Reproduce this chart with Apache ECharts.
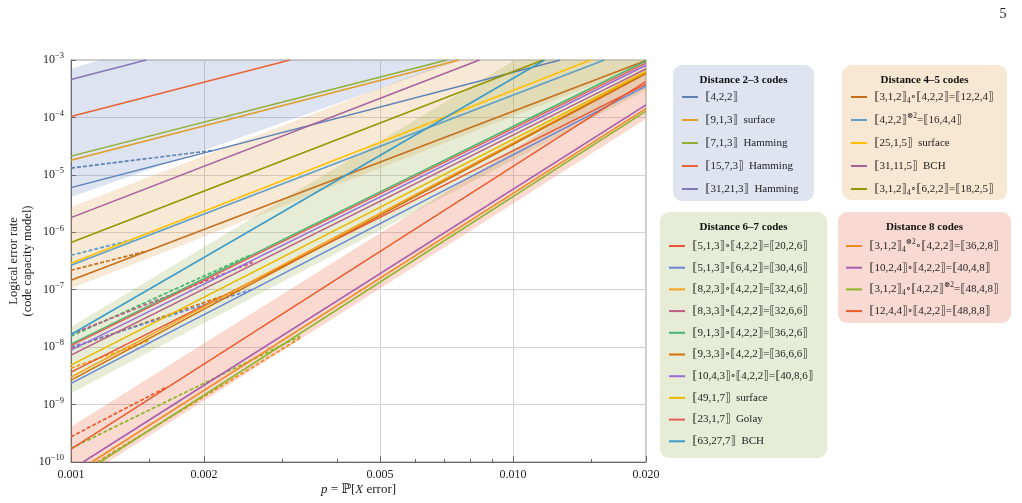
<!DOCTYPE html>
<html>
<head>
    <meta charset="utf-8">
    <title>Logical error rate</title>
    <script src="https://cdn.jsdelivr.net/npm/echarts@6/dist/echarts.min.js"></script>
    <style type="text/css">
        html, body {margin:0; padding:0; background:#fff; overflow:hidden;}
    </style>
</head>
<body>
<div id="main" style="width:1022px;height:503px;"></div>
<script type="text/javascript">
    var serif = "'Liberation Serif', 'DejaVu Serif', 'DejaVu Sans', serif";

    // axis ticks (p on x, logical error rate on y)
    var pTicks = [0.001, 0.002, 0.005, 0.010, 0.020];
    var pMinorTicks = [0.0015, 0.003, 0.004, 0.006, 0.007, 0.008, 0.009, 0.015];

    // one solid line per code: start point and end point (p, rate)
    var codeNames = [
        '⟦4,2,2⟧',
        '⟦9,1,3⟧  surface',
        '⟦7,1,3⟧  Hamming',
        '⟦15,7,3⟧  Hamming',
        '⟦31,21,3⟧  Hamming',
        '⟦3,1,2⟧_4∘⟦4,2,2⟧=⟦12,2,4⟧',
        '⟦4,2,2⟧^⊗2=⟦16,4,4⟧',
        '⟦25,1,5⟧  surface',
        '⟦31,11,5⟧  BCH',
        '⟦3,1,2⟧_4∘⟦6,2,2⟧=⟦18,2,5⟧',
        '⟦5,1,3⟧∘⟦4,2,2⟧=⟦20,2,6⟧',
        '⟦5,1,3⟧∘⟦6,4,2⟧=⟦30,4,6⟧',
        '⟦8,2,3⟧∘⟦4,2,2⟧=⟦32,4,6⟧',
        '⟦8,3,3⟧∘⟦4,2,2⟧=⟦32,6,6⟧',
        '⟦9,1,3⟧∘⟦4,2,2⟧=⟦36,2,6⟧',
        '⟦9,3,3⟧∘⟦4,2,2⟧=⟦36,6,6⟧',
        '⟦10,4,3⟧∘⟦4,2,2⟧=⟦40,8,6⟧',
        '⟦49,1,7⟧  surface',
        '⟦23,1,7⟧  Golay',
        '⟦63,27,7⟧  BCH',
        '⟦3,1,2⟧_4^⊗2∘⟦4,2,2⟧=⟦36,2,8⟧',
        '⟦10,2,4⟧∘⟦4,2,2⟧=⟦40,4,8⟧',
        '⟦3,1,2⟧_4∘⟦4,2,2⟧^⊗2=⟦48,4,8⟧',
        '⟦12,4,4⟧∘⟦4,2,2⟧=⟦48,8,8⟧'
    ];
    var startP = [0.001, 0.001, 0.001, 0.001, 0.001,
                  0.001, 0.001, 0.001, 0.001, 0.001,
                  0.001, 0.001, 0.001, 0.001, 0.001, 0.001, 0.001, 0.001, 0.001, 0.001,
                  0.001114, 0.001065, 0.001163, 0.001];
    var startRate = [5.99e-6, 1.79e-5, 2.12e-5, 1.04e-4, 4.58e-4,
                     1.46e-7, 2.67e-7, 2.89e-7, 1.80e-6, 6.62e-7,
                     3.67e-9, 2.34e-9, 3.01e-9, 7.26e-9, 1.13e-8, 2.67e-9, 8.87e-9, 4.86e-9, 1.06e-8, 1.66e-8,
                     1e-10, 1e-10, 1e-10, 1.68e-10];
    var endP = [0.0128, 0.00755, 0.00709, 0.00313, 0.00148,
                0.02, 0.0161, 0.0150, 0.0084, 0.0117,
                0.02, 0.02, 0.02, 0.02, 0.02, 0.02, 0.02, 0.02, 0.02, 0.0118,
                0.02, 0.02, 0.02, 0.02];
    var endRate = [1e-3, 1e-3, 1e-3, 1e-3, 1e-3,
                   0.98e-3, 1e-3, 1e-3, 1e-3, 1e-3,
                   3.81e-4, 3.50e-4, 6.06e-4, 7.0e-4, 9.6e-4, 5.82e-4, 8.09e-4, 6.31e-4, 8.83e-4, 1e-3,
                   1.43e-4, 1.65e-4, 1.29e-4, 4.23e-4];

    // dashed low-p segments (index of the code they belong to)
    var dashCode = [0, 5, 6, 14, 13, 15, 11, 12, 23, 22, 20];
    var dashFromP = [0.001, 0.001, 0.001, 0.001, 0.001, 0.001, 0.001, 0.001, 0.001, 0.001, 0.001145];
    var dashFromRate = [1.31e-5, 2.18e-7, 3.98e-7, 1.55e-8, 1.68e-8, 9.6e-9, 1.0e-8, 4.31e-9, 2.75e-10, 1.73e-10, 1e-10];
    var dashToP = [0.0021, 0.00148, 0.00138, 0.00254, 0.00258, 0.00241, 0.00258, 0.00151, 0.00165, 0.0033, 0.0033];
    var dashToRate = [2.67e-5, 4.67e-7, 7.46e-7, 3.98e-7, 3.0e-7, 9.8e-8, 1.02e-7, 1.32e-8, 2.04e-9, 1.55e-8, 1.44e-8];

    // shaded bands per distance group (polygon corners)
    var bandP = [
        [0.001, 0.001163, 0.00763, 0.001],
        [0.001, 0.00732, 0.02, 0.02, 0.001],
        [0.001, 0.0101, 0.02, 0.02, 0.001],
        [0.001, 0.02, 0.02, 0.001212, 0.001]
    ];
    var bandRate = [
        [7.03e-4, 1e-3, 1e-3, 4.11e-6],
        [2.75e-6, 1e-3, 1e-3, 8.35e-4, 1.05e-7],
        [2.25e-8, 1e-3, 1e-3, 2.99e-4, 1.57e-9],
        [4.11e-10, 7.7e-4, 9.5e-5, 1e-10, 1e-10]
    ];

    var codeColors = ['#5E81B5', '#E19C24', '#8FB032', '#EB6235', '#8778B3',
                      '#C56E1A', '#5D9EC7', '#FFBF00', '#A5609D', '#929600',
                      '#E95536', '#6685D9', '#F89F13', '#BC5B80', '#47B66D', '#D0700C', '#9A6AD8', '#E9B800', '#E35B5B', '#3A9BC8',
                      '#F08A24', '#A85AAC', '#8CB428', '#EA5A2C'];
    var bandColors = ['rgba(107,133,190,0.23)', 'rgba(223,160,78,0.23)', 'rgba(150,173,78,0.23)', 'rgba(231,107,75,0.26)'];
    var boxColors = ['#DFE4F0', '#F8E7D2', '#E7ECD6', '#F9DAD3'];
    var groupTitles = ['Distance 2\u20133 codes', 'Distance 4\u20135 codes', 'Distance 6\u20137 codes', 'Distance 8 codes'];

    var lg = Math.log10;
    var series = [];

    // bands
    bandP.forEach(function (ps, k) {
        var pts = ps.map(function (p, j) { return [lg(p), lg(bandRate[k][j])]; });
        series.push({
            type: 'custom',
            name: 'band' + k,
            silent: true,
            animation: false,
            z: 1,
            data: pts,
            renderItem: function (params, api) {
                if (params.dataIndex !== 0) return null;
                return {
                    type: 'polygon',
                    shape: {points: pts.map(function (d) { return api.coord(d); })},
                    style: {fill: bandColors[k]}
                };
            }
        });
    });

    // dashed segments
    dashCode.forEach(function (c, i) {
        series.push({
            type: 'line',
            name: 'bound' + i,
            data: [[lg(dashFromP[i]), lg(dashFromRate[i])], [lg(dashToP[i]), lg(dashToRate[i])]],
            symbol: 'none',
            silent: true,
            animation: false,
            z: 3,
            color: codeColors[c],
            lineStyle: {width: 1.7, type: [4, 2], color: codeColors[c]}
        });
    });

    // solid lines
    codeNames.forEach(function (n, i) {
        series.push({
            type: 'line',
            name: n,
            data: [[lg(startP[i]), lg(startRate[i])], [lg(endP[i]), lg(endRate[i])]],
            symbol: 'none',
            silent: true,
            animation: false,
            z: 4,
            color: codeColors[i],
            lineStyle: {width: 1.5, color: codeColors[i]}
        });
    });

    function richName(n) {
        return n.replace(/_4/g, '{sub|4}').replace(/\^⊗2/g, '{sup|⊗2}');
    }

    var legendText = {
        fontFamily: serif, fontSize: 11, color: '#222', lineHeight: 16, padding: [0, 0, 0, 2],
        rich: {
            sub: {fontFamily: serif, fontSize: 7.5, color: '#222', verticalAlign: 'bottom', lineHeight: 16},
            sup: {fontFamily: serif, fontSize: 7.5, color: '#222', verticalAlign: 'top', lineHeight: 16}
        }
    };
    function makeLegend(names, left, top, gap) {
        return {
            data: names, orient: 'vertical', left: left, top: top, padding: 0,
            itemWidth: 16, itemHeight: 2, itemGap: gap, icon: 'rect',
            selectedMode: false, formatter: richName, textStyle: legendText
        };
    }

    var boxes = [[673, 65, 141, 136], [842, 65, 165, 135], [660, 212, 167, 246], [838, 212, 173, 111]];
    var graphic = [];
    boxes.forEach(function (b, k) {
        graphic.push({type: 'rect', z: 0, shape: {x: b[0], y: b[1], width: b[2], height: b[3], r: 9}, style: {fill: boxColors[k]}});
        graphic.push({type: 'text', z: 10, x: b[0] + b[2] / 2, y: b[1] + 15,
            style: {text: groupTitles[k], font: 'bold 11px ' + serif, fill: '#111', align: 'center', verticalAlign: 'middle'}});
    });
    graphic.push({type: 'text', z: 10, x: 1003, y: 14,
        style: {text: '5', font: '14px ' + serif, fill: '#222', align: 'center', verticalAlign: 'middle'}});

    var myChart = echarts.init(document.getElementById('main'));
    var option = {
        animation: false,
        backgroundColor: '#fff',
        grid: {left: 71, right: 376, top: 60, bottom: 41, containLabel: false, outerBoundsMode: 'none',
               show: true, borderColor: '#999', borderWidth: 1, backgroundColor: 'transparent'},
        graphic: graphic,
        legend: [
            makeLegend(codeNames.slice(0, 5), 682, 89, 7),
            makeLegend(codeNames.slice(5, 10), 851, 89, 7),
            makeLegend(codeNames.slice(10, 20), 669, 238, 5.7),
            makeLegend(codeNames.slice(20, 24), 846, 238, 5.7)
        ],
        xAxis: [{
            type: 'value', position: 'bottom', min: -3, max: lg(0.02),
            axisLine: {show: true, lineStyle: {color: '#666'}},
            axisTick: {show: true, inside: true, length: 6, customValues: pTicks.map(lg), lineStyle: {color: '#666'}},
            axisLabel: {
                customValues: pTicks.map(lg), margin: 7, fontFamily: serif, fontSize: 12, color: '#222',
                formatter: function (v) { return Math.pow(10, v).toFixed(3); }
            },
            splitLine: {show: true, lineStyle: {color: '#d2d2d2'}},
            name: '{i|p} = ℙ[{i|X} error]', nameLocation: 'middle', nameGap: 21, nameMoveOverlap: false,
            nameTextStyle: {fontFamily: serif, fontSize: 13, color: '#222',
                rich: {i: {fontFamily: serif, fontStyle: 'italic', fontSize: 13, color: '#222'}}}
        }, {
            type: 'value', position: 'bottom', min: -3, max: lg(0.02),
            axisLine: {show: false},
            axisTick: {show: true, inside: true, length: 3, customValues: pMinorTicks.map(lg), lineStyle: {color: '#666'}},
            axisLabel: {show: false},
            splitLine: {show: false}
        }],
        yAxis: {
            type: 'value', min: -10, max: -3, interval: 1,
            axisLine: {show: true, lineStyle: {color: '#666'}},
            axisTick: {show: true, inside: true, length: 5, lineStyle: {color: '#666'}},
            axisLabel: {
                margin: 7, fontFamily: serif, fontSize: 12, color: '#222', lineHeight: 17,
                formatter: function (v) { return '10{s|\u2212' + (-v) + '}'; },
                rich: {s: {fontFamily: serif, fontSize: 8.5, color: '#222', verticalAlign: 'top', lineHeight: 17}}
            },
            splitLine: {show: true, lineStyle: {color: '#d2d2d2'}},
            name: 'Logical error rate\n(code capacity model)', nameLocation: 'middle', nameRotate: 90,
            nameGap: 36, nameMoveOverlap: false,
            nameTextStyle: {fontFamily: serif, fontSize: 12.5, color: '#222', lineHeight: 14}
        },
        series: series
    };
    myChart.setOption(option);
</script>
</body>
</html>
